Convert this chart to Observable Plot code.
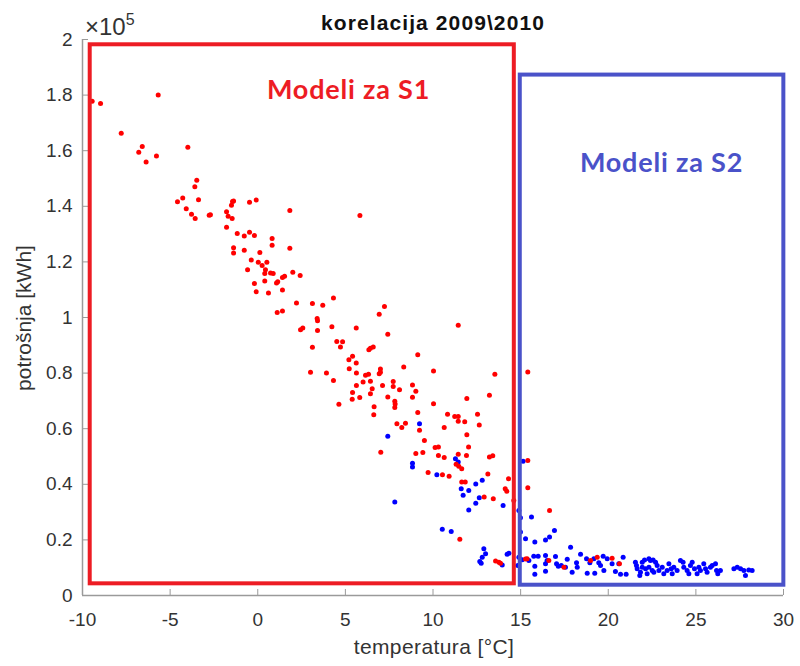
<!DOCTYPE html>
<html><head><meta charset="utf-8">
<script src="https://cdn.jsdelivr.net/npm/d3@7"></script>
<script src="https://cdn.jsdelivr.net/npm/@observablehq/plot@0.6"></script>
<style>html,body{margin:0;padding:0;background:#fff}#chart svg{display:block}</style>
</head><body><div id="chart"></div>
<script>
// temperature [°C] and consumption [kWh ×10^5], season S1 (red)
const redX = [-9.45,-8.97,-5.68,-7.79,-6.59,-6.79,-6.37,-5.78,-3.99,-3.48,-3.59,-3.38,-4.28,-4.58,-4.08,-3.78,-3.57,-2.77,-2.70,-1.78,-1.44,-1.38,-1.50,-1.69,-1.46,-0.47,-0.09,1.83,-1.78,-1.17,-0.77,-0.47,-0.19,0.82,0.82,1.83,-1.38,-1.38,-0.77,0.12,-0.37,0.03,0.25,0.52,-0.58,0.44,0.73,0.88,0.40,2.00,2.42,1.41,1.53,
5.83,1.14,1.07,-0.19,0.40,-0.09,0.61,1.41,2.21,3.12,3.71,4.32,1.11,1.41,7.23,6.93,3.39,3.41,2.44,2.57,3.41,4.23,5.62,7.42,3.12,4.51,4.84,4.72,6.34,6.43,6.59,5.41,5.20,5.62,5.22,5.63,3.01,3.92,6.15,6.32,7.00,7.00,6.93,4.32,6.01,6.43,5.63,6.53,6.43,7.12,7.73,7.73,5.41,5.82,5.39,7.42,8.09,
11.44,9.13,8.33,10.03,13.53,15.41,8.83,9.02,8.83,11.93,13.22,4.63,6.64,6.62,7.82,7.82,7.84,9.13,10.03,10.83,11.24,11.44,11.44,11.81,12.54,12.64,7.94,8.43,8.22,9.23,10.64,11.93,9.51,10.12,10.31,12.03,7.02,9.02,9.42,10.31,10.64,11.44,11.91,13.22,13.41,11.32,11.47,11.64,15.41,9.72,10.54,10.92,13.13,11.64,11.84,12.92,13.44,14.31,14.12,14.21,15.41,
16.65,11.53,13.57,13.76,13.85,14.61,15.37,15.28,16.61,20.22,20.64,17.47,18.99,19.37];
const redY = [1.778,1.770,1.800,1.663,1.615,1.594,1.559,1.581,1.612,1.494,1.470,1.424,1.430,1.416,1.391,1.371,1.356,1.368,1.370,1.380,1.417,1.419,1.404,1.364,1.356,1.415,1.423,1.385,1.325,1.302,1.293,1.307,1.295,1.284,1.260,1.249,1.251,1.232,1.242,1.234,1.207,1.199,1.187,1.199,1.172,1.172,1.160,1.158,1.158,1.163,1.151,1.144,1.148,
1.367,1.129,1.124,1.122,1.131,1.093,1.088,1.099,1.052,1.050,1.044,1.070,1.018,1.023,1.040,1.012,0.996,0.988,0.956,0.962,0.953,0.967,0.962,0.940,0.893,0.914,0.913,0.894,0.884,0.889,0.894,0.861,0.848,0.836,0.816,0.800,0.803,0.800,0.792,0.796,0.815,0.803,0.798,0.773,0.768,0.771,0.755,0.744,0.726,0.755,0.770,0.752,0.730,0.712,0.706,0.714,0.740,
0.972,0.866,0.822,0.808,0.796,0.804,0.757,0.735,0.713,0.709,0.720,0.688,0.679,0.650,0.699,0.676,0.689,0.658,0.690,0.652,0.644,0.644,0.627,0.625,0.652,0.613,0.618,0.620,0.604,0.594,0.604,0.578,0.558,0.532,0.534,0.534,0.515,0.511,0.514,0.504,0.496,0.508,0.504,0.498,0.503,0.472,0.465,0.456,0.486,0.442,0.434,0.429,0.437,0.408,0.408,0.354,0.348,0.420,0.384,0.375,0.388,
0.306,0.202,0.124,0.120,0.116,0.342,0.132,0.131,0.126,0.134,0.114,0.102,0.126,0.138];
// season S2 (blue)
const blueX = [9.23,7.42,11.28,11.44,8.83,8.83,10.22,12.44,12.81,11.61,12.04,11.72,12.64,15.14,7.82,
12.44,12.04,14.00,14.90,14.99,15.62,10.53,11.04,14.99,15.28,15.81,16.42,16.65,16.93,17.85,12.90,13.00,12.81,12.67,12.75,14.23,14.33,13.95,14.90,14.84,15.09,15.47,15.75,16.00,15.81,15.81,16.42,16.42,16.42,16.51,16.99,17.05,17.15,17.32,17.56,17.66,17.94,18.19,18.23,18.42,18.76,18.80,18.95,19.18,19.23,19.46,19.56,19.71,19.75,19.94,20.22,20.41,20.60,20.70,20.85,21.02,
21.55,21.61,21.65,21.84,21.80,
21.94,22.07,22.32,22.41,22.56,22.70,21.94,22.13,22.32,22.51,22.22,22.60,22.79,22.89,23.08,23.17,23.36,23.46,23.59,23.65,23.74,23.93,24.12,24.27,24.31,24.50,24.60,24.69,24.79,24.92,25.07,25.17,25.26,25.45,25.55,25.64,25.83,25.93,26.12,26.18,26.25,26.40,27.17,27.36,27.55,27.74,27.83,28.02,28.21];
const blueY = [0.618,0.573,0.492,0.480,0.476,0.462,0.434,0.401,0.415,0.384,0.378,0.361,0.352,0.483,0.336,
0.332,0.308,0.324,0.306,0.280,0.282,0.238,0.230,0.228,0.204,0.192,0.200,0.210,0.234,0.174,0.168,0.150,0.138,0.122,0.116,0.148,0.152,0.110,0.138,0.108,0.129,0.126,0.141,0.141,0.105,0.076,0.144,0.114,0.087,0.126,0.140,0.114,0.105,0.108,0.102,0.130,0.084,0.118,0.102,0.148,0.132,0.080,0.118,0.132,0.080,0.118,0.108,0.141,0.090,0.132,0.114,0.086,0.114,0.076,0.138,0.076,
0.120,0.108,0.096,0.084,0.072,
0.120,0.128,0.132,0.126,0.128,0.120,0.102,0.096,0.102,0.090,0.078,0.084,0.108,0.090,0.102,0.078,0.090,0.114,0.096,0.078,0.102,0.090,0.126,0.120,0.102,0.090,0.078,0.108,0.120,0.096,0.078,0.102,0.090,0.114,0.096,0.084,0.102,0.108,0.114,0.090,0.078,0.090,0.096,0.102,0.096,0.090,0.072,0.092,0.090];

const xTicks = [-10,-5,0,5,10,15,20,25,30];
const yTicks = [0,0.2,0.4,0.6,0.8,1,1.2,1.4,1.6,1.8,2];
const titleText = "korelacija 2009\\2010";
const xLabel = "temperatura [°C]";
const yLabel = "potrošnja [kWh]";
const boxLabels = ["Modeli za S1", "Modeli za S2"];
// model regions (data coordinates)
const boxX1 = [-9.56, 14.98];
const boxX2 = [14.64, 30.02];
const boxY1 = [0.042, 0.037];
const boxY2 = [1.981, 1.872];
const labelX = [5.18, 23.04];
const labelY = [1.818, 1.555];

const red = redX.map((x, i) => ({x, y: redY[i]}));
const blue = blueX.map((x, i) => ({x, y: blueY[i]}));
const boxes = boxX1.map((x1, i) => ({x1, x2: boxX2[i], y1: boxY1[i], y2: boxY2[i], label: boxLabels[i], lx: labelX[i], ly: labelY[i]}));
const boxColors = ["#ed1c24", "#4a52c9"];

const axisGray = "#9a9a9a";
const textGray = "#333333";

const chart = Plot.plot({
  width: 800, height: 666,
  marginLeft: 82, marginRight: 17, marginTop: 39, marginBottom: 71,
  style: {fontFamily: "Liberation Sans, Arial, sans-serif", fontSize: "19px", background: "#fff", color: textGray},
  x: {domain: [-10, 30], label: null},
  y: {domain: [0, 2], label: null},
  marks: [
    Plot.ruleY([0], {x1: -10, x2: 30, stroke: axisGray, strokeWidth: 1.5}),
    Plot.ruleX([-10], {y1: 0, y2: 2, stroke: axisGray, strokeWidth: 1.5}),
    Plot.axisX(xTicks, {tickSize: -6, tickPadding: 23, stroke: axisGray, fill: textGray, fontSize: 19, tickFormat: d => String(d)}),
    Plot.axisY(yTicks, {tickSize: -6, tickPadding: 16, stroke: axisGray, fill: textGray, fontSize: 19, tickFormat: d => String(+d.toFixed(1))}),
    Plot.dot(blue, {x: "x", y: "y", r: 2.5, fill: "#0000ff", stroke: null}),
    Plot.dot(red, {x: "x", y: "y", r: 2.5, fill: "#ff0000", stroke: null}),
    Plot.rect([boxes[0]], {x1: "x1", x2: "x2", y1: "y1", y2: "y2", fill: "none", stroke: boxColors[0], strokeWidth: 4}),
    Plot.rect([boxes[1]], {x1: "x1", x2: "x2", y1: "y1", y2: "y2", fill: "none", stroke: boxColors[1], strokeWidth: 4}),
    Plot.text([boxes[0]], {x: "lx", y: "ly", text: "label", fill: boxColors[0], fontSize: 27, fontWeight: "bold", fontFamily: "Lato, sans-serif", textAnchor: "middle", lineAnchor: "middle"}),
    Plot.text([boxes[1]], {x: "lx", y: "ly", text: "label", fill: boxColors[1], fontSize: 27, fontWeight: "bold", fontFamily: "Lato, sans-serif", textAnchor: "middle", lineAnchor: "middle"})
  ]
});
document.getElementById("chart").appendChild(chart);

const svg = d3.select(chart);
svg.selectAll("text").filter(function(){ return this.closest("[aria-label='text']"); }).attr("letter-spacing", "0.8px");
svg.append("text").attr("x", 433).attr("y", 29.5).attr("text-anchor", "middle")
  .attr("font-family", "Liberation Sans, Arial, sans-serif").attr("font-weight", "bold").attr("font-size", 21)
  .attr("letter-spacing", "1.1px").attr("fill", "#111").text(titleText);
svg.append("text").attr("x", 434).attr("y", 654).attr("text-anchor", "middle")
  .attr("font-family", "Liberation Sans, Arial, sans-serif").attr("font-size", 21)
  .attr("letter-spacing", "0.4px").attr("fill", textGray).text(xLabel);
svg.append("text").attr("transform", "translate(31,318) rotate(-90)").attr("text-anchor", "middle")
  .attr("font-family", "Liberation Sans, Arial, sans-serif").attr("font-size", 21)
  .attr("fill", textGray).text(yLabel);
const mult = svg.append("text").attr("x", 85).attr("y", 35).attr("text-anchor", "start")
  .attr("font-family", "Liberation Sans, Arial, sans-serif").attr("font-size", 24).attr("fill", textGray);
mult.append("tspan").text("×10");
mult.append("tspan").attr("font-size", 16).attr("dy", -10).text("5");
</script>
</body></html>
